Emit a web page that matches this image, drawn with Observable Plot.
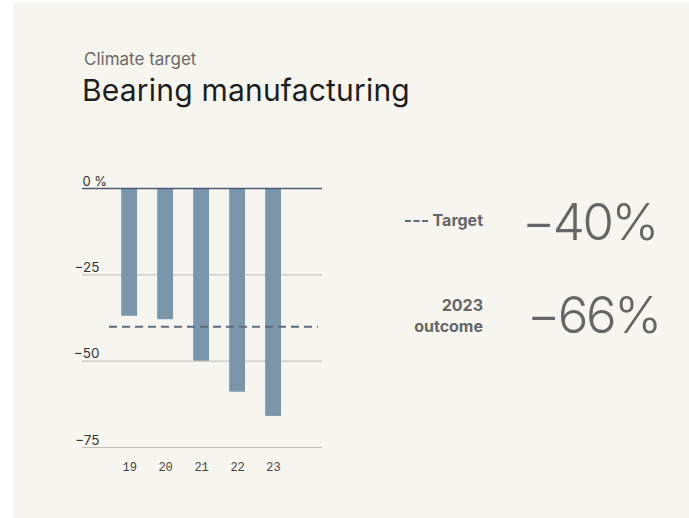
<!DOCTYPE html>
<html>
<head>
<meta charset="utf-8">
<script src="https://cdn.jsdelivr.net/npm/d3@7"></script>
<script src="https://cdn.jsdelivr.net/npm/@observablehq/plot@0.6"></script>
<style>
  html, body { margin: 0; padding: 0; background: #ffffff; width: 689px; height: 518px; overflow: hidden; }
  #card { position: absolute; left: 13px; top: 3px; width: 676px; height: 515px; background: #f7f5f0; }
  .abs { position: absolute; white-space: nowrap; font-family: Inter, "Noto Sans", sans-serif; }
  #sub { left: 84px; top: 49px; font-size: 17px; color: #6a6a6a; }
  #title { left: 82px; top: 72px; font-size: 30px; color: #1e1e1e; letter-spacing: 0.2px; }
  #chart { position: absolute; left: 0; top: 170px; }
  .lab { font-weight: 700; font-size: 16px; color: #666; text-align: right; line-height: 21px; }
  .big { font-weight: 300; font-size: 51px; color: #666; line-height: 1; letter-spacing: -2.5px; }
  .dash { display: inline-block; width: 23px; border-top: 2px dashed #5b6b80; vertical-align: middle; margin-right: 5px; position: relative; top: -1px; }
</style>
</head>
<body>
<div id="card"></div>
<div class="abs" id="sub">Climate target</div>
<div class="abs" id="title">Bearing manufacturing</div>
<div id="chart"></div>
<div class="abs lab" style="right:206px; top:210px;"><span class="dash"></span>Target</div>
<div class="abs big" style="left:522px; top:196px;">−40%</div>
<div class="abs lab" style="right:206px; top:295px;">2023<br>outcome</div>
<div class="abs big" style="left:527px; top:289px;">−66%</div>
<script>
const years = [19, 20, 21, 22, 23];
const values = [-37, -38, -50, -59, -66];
const target = -40;
const yTicks = [0, -25, -50, -75];

const data = years.map((y, i) => ({year: y, value: values[i]}));
const barHalf = 0.22;

const plot = Plot.plot({
  width: 340,
  height: 320,
  marginLeft: 82,
  marginRight: 18,
  marginTop: 18,
  marginBottom: 43,
  style: {background: "transparent", fontFamily: "Inter, 'Noto Sans', sans-serif"},
  x: {domain: [17.69, 24.36], axis: null},
  y: {domain: [-75, 0], axis: null},
  marks: [
    Plot.ruleY(yTicks.filter(d => d !== 0), {stroke: "#bdbcb8", strokeWidth: 1}),
    Plot.rectY(data, {x1: d => d.year - barHalf, x2: d => d.year + barHalf, y1: 0, y2: "value", fill: "#7b96aa"}),
    Plot.ruleY([target], {x1: years[0] - 0.56, x2: years[years.length - 1] + 1.25, stroke: "#5b6b80", strokeWidth: 2, strokeDasharray: "8,5"}),
    Plot.ruleY([0], {stroke: "#4b5c73", strokeWidth: 1.5}),
    Plot.text(yTicks.filter(d => d !== 0), {y: d => d, frameAnchor: "left", text: d => "−" + Math.abs(d), textAnchor: "end", lineAnchor: "bottom", dx: 17, dy: -3, fontSize: 13.5, fill: "#333"}),
    Plot.text([0], {y: d => d, frameAnchor: "left", text: d => "0 %", textAnchor: "start", lineAnchor: "bottom", dx: 0, dy: -3, fontSize: 13, fill: "#333"}),
    Plot.text(years, {x: d => d, frameAnchor: "bottom", text: d => String(d), lineAnchor: "middle", dy: 20, fontSize: 12, fill: "#444", fontFamily: "'Liberation Mono', monospace"})
  ]
});
document.getElementById("chart").appendChild(plot);
</script>
</body>
</html>
